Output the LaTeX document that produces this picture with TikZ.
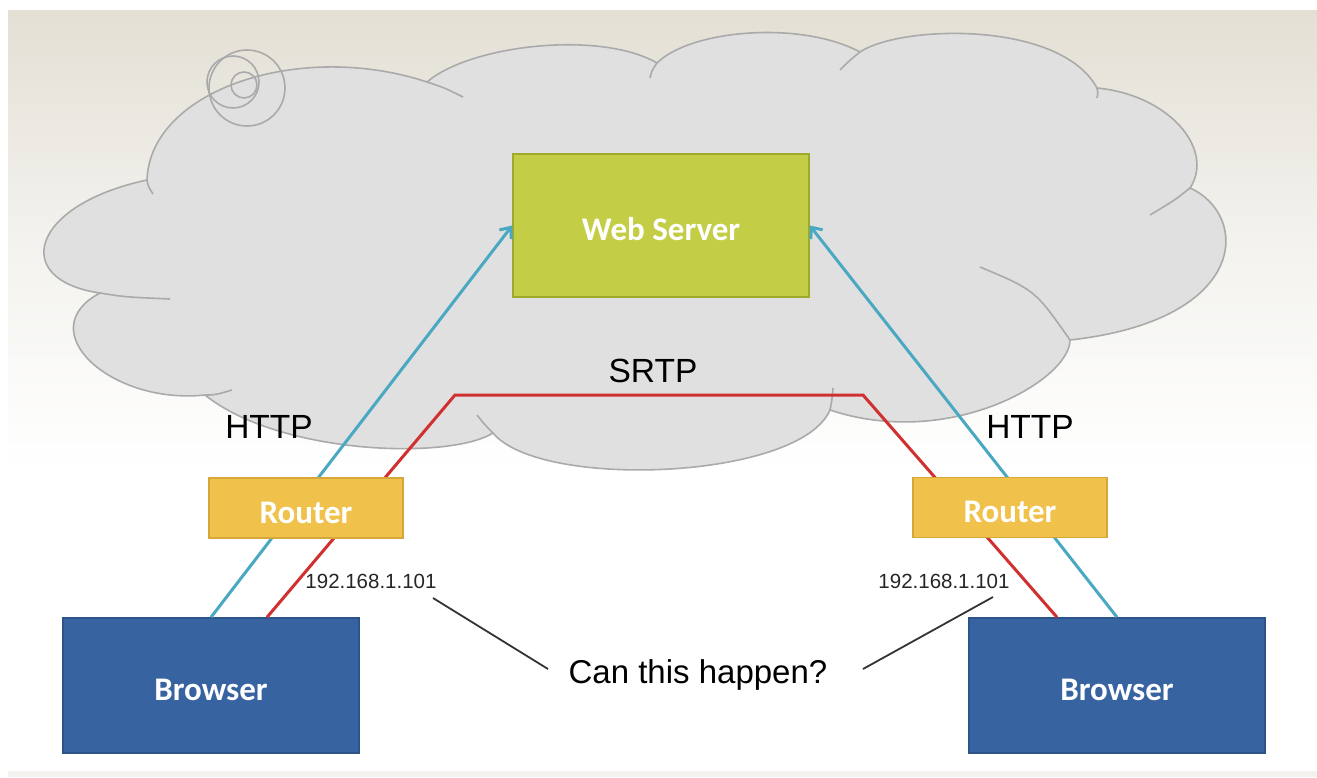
\documentclass[tikz,border=0pt]{standalone}
\usepackage{fontspec}
\setmainfont{Liberation Sans}
\newfontfamily\calibri{Carlito}
\usetikzlibrary{arrows.meta,calc}
\definecolor{bgtop}{HTML}{E3DFD4}
\definecolor{bgmid}{HTML}{F3F2EE}
\definecolor{cloudfill}{HTML}{E0E0E0}
\definecolor{cloudline}{HTML}{AAAAAA}
\definecolor{wsfill}{HTML}{C3CD45}
\definecolor{wsline}{HTML}{9EAA2C}
\definecolor{rtfill}{HTML}{F0C24B}
\definecolor{rtline}{HTML}{D6A83A}
\definecolor{brfill}{HTML}{3763A0}
\definecolor{brline}{HTML}{2D5488}
\definecolor{httpblue}{HTML}{4AA8C2}
\definecolor{srtpred}{HTML}{D0302F}
\definecolor{conn}{HTML}{333333}
\begin{document}
\begin{tikzpicture}[x=1pt,y=-1pt,
  cloudedge/.style={draw=cloudline,line width=1.6pt},
  boxbase/.style={rectangle,line width=1.5pt,text=white,
    font=\calibri\bfseries\fontsize{33}{40}\selectfont,text height=30pt,text depth=0pt,inner sep=0pt},
  wsbox/.style={boxbase,fill=wsfill,draw=wsline,minimum width=296pt,minimum height=143pt},
  rtbox/.style={boxbase,fill=rtfill,draw=rtline,minimum width=194pt,minimum height=60pt},
  brbox/.style={boxbase,fill=brfill,draw=brline,minimum width=296pt,minimum height=135pt},
  httpline/.style={draw=httpblue,line width=3pt,-{Straight Barb[length=9pt,width=15pt]}},
  srtpline/.style={draw=srtpred,line width=3pt,line join=miter},
  biglabel/.style={font=\fontsize{33.5}{40}\selectfont,text=black,inner sep=0pt,anchor=base},
  iplabel/.style={font=\fontsize{20.5}{24}\selectfont,text=black!85,inner sep=0pt,anchor=base},
  connline/.style={draw=conn,line width=1.8pt}
]
\useasboundingbox (0,0) rectangle (1317,777);
% background
\fill[white] (0,0) rectangle (1317,777);
\shade[top color=bgtop,bottom color=white,middle color=bgmid] (8,10) rectangle (1317,470);
\fill[white] (8,470) rectangle (1317,771);
\fill[bgmid] (8,771) rectangle (1317,777);
% cloud
\path[fill=cloudfill,cloudedge]
 (147,180) .. controls (150,90) and (300,40) .. (427,82)
 .. controls (470,45) and (600,30) .. (657,63)
 .. controls (690,30) and (800,20) .. (860,52)
 .. controls (900,25) and (1060,20) .. (1097,88)
 .. controls (1170,95) and (1215,150) .. (1190,188)
 .. controls (1250,215) and (1250,320) .. (1070,340)
 .. controls (1070,380) and (950,450) .. (830,410)
 .. controls (800,480) and (540,490) .. (493,433)
 .. controls (450,460) and (280,455) .. (205,395)
 .. controls (110,405) and (30,330) .. (100,293)
 .. controls (10,280) and (30,205) .. (147,180) -- cycle;
% cloud inner tails
\draw[cloudedge] (147,180) .. controls (148,186) .. (153,194);
\draw[cloudedge] (427,82) .. controls (445,88) .. (463,97);
\draw[cloudedge] (657,63) .. controls (652,70) .. (650,78);
\draw[cloudedge] (860,52) .. controls (850,60) .. (840,70);
\draw[cloudedge] (1097,88) .. controls (1098,93) .. (1097,98);
\draw[cloudedge] (1190,188) .. controls (1175,200) .. (1150,215);
\draw[cloudedge] (1070,340) .. controls (1035,290) .. (980,267);
\draw[cloudedge] (830,410) .. controls (832,400) .. (833,388);
\draw[cloudedge] (493,433) .. controls (485,425) .. (477,415);
\draw[cloudedge] (205,395) .. controls (215,395) .. (232,390);
\draw[cloudedge] (100,293) .. controls (125,297) .. (170,299);
% swirl
\draw[cloudedge] (247,88) circle[radius=38];
\draw[cloudedge] (233,82) circle[radius=26];
\draw[cloudedge] (244,85) circle[radius=13];
% nodes
\node[wsbox] (ws) at (661,225.5) {Web Server};
\node[brbox] (bL) at (211,685.5) {Browser};
\node[brbox] (bR) at (1117,685.5) {Browser};
% connectors
\coordinate (cL) at (455,395);
\coordinate (cR) at (863,395);
\draw[httpline] (bL.north) -- (ws.west);
\draw[httpline] (bR.north) -- (ws.east);
\draw[srtpline] ([xshift=56pt]bL.north) -- (cL) -- (cR) -- ([xshift=-60pt]bR.north);
% routers on top of lines
\node[rtbox] (rL) at (306,508) {Router};
\node[rtbox] (rR) at (1010,507.5) {Router};
% labels
\node[biglabel] (httpL) at (269,438) {HTTP};
\node[biglabel] (httpR) at (1030,438) {HTTP};
\node[biglabel] (srtp) at (653,382) {SRTP};
\node[iplabel] (ipL) at (371,588) {192.168.1.101};
\node[iplabel] (ipR) at (944,588) {192.168.1.101};
\node[biglabel,font=\fontsize{33}{40}\selectfont] (q) at (698,683) {Can this happen?};
\coordinate (qL1) at (433,598);
\coordinate (qL2) at (548,669);
\coordinate (qR1) at (993,597);
\coordinate (qR2) at (863,669);
\draw[connline] (qL1) -- (qL2);
\draw[connline] (qR1) -- (qR2);
\end{tikzpicture}
\end{document}
